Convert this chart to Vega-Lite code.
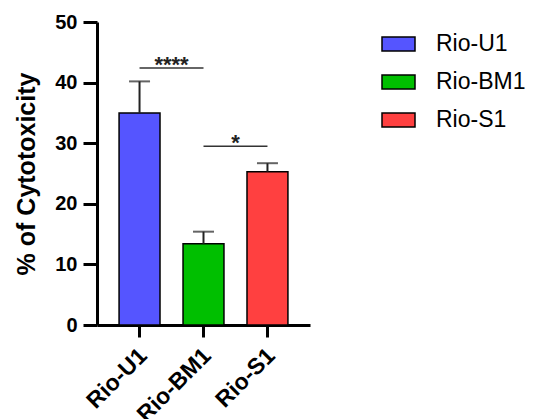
{
  "$schema": "https://vega.github.io/schema/vega-lite/v6.json",
  "width": 213,
  "height": 303,
  "autosize": {"type": "none"},
  "padding": {"left": 97, "top": 22, "right": 225, "bottom": 94},
  "background": "white",
  "config": {
    "view": {"stroke": null},
    "font": "Liberation Sans"
  },
  "datasets": {
    "bars": [
      {"group": "Rio-U1", "value": 35.0, "upper": 40.2},
      {"group": "Rio-BM1", "value": 13.4, "upper": 15.4},
      {"group": "Rio-S1", "value": 25.3, "upper": 26.7}
    ],
    "sig": [
      {"from": "Rio-U1", "to": "Rio-BM1", "y": 42.4, "label": "****"},
      {"from": "Rio-BM1", "to": "Rio-S1", "y": 29.5, "label": "*"}
    ]
  },
  "layer": [
    {
      "data": {"name": "bars"},
      "mark": {"type": "bar", "stroke": "black", "strokeWidth": 1.5},
      "encoding": {
        "x": {
          "field": "group", "type": "nominal",
          "scale": {"domain": ["Rio-U1", "Rio-BM1", "Rio-S1"], "paddingInner": 0.36, "paddingOuter": 0.345},
          "axis": {
            "title": null, "labelAngle": -45, "labelFontSize": 23, "labelFontWeight": "bold",
            "labelColor": "black", "domainColor": "black", "domainWidth": 3, "tickColor": "black",
            "tickWidth": 3, "tickSize": 12, "labelPadding": 7, "labelOffset": -4
          }
        },
        "y": {
          "field": "value", "type": "quantitative",
          "scale": {"domain": [0, 50], "nice": false},
          "axis": {
            "title": "% of Cytotoxicity", "titleFontSize": 25, "titleFontWeight": "bold", "titleColor": "black",
            "titlePadding": 15, "values": [0, 10, 20, 30, 40, 50], "grid": false,
            "labelFontSize": 20, "labelFontWeight": "bold", "labelColor": "black", "labelPadding": 6,
            "domainColor": "black", "domainWidth": 3, "tickColor": "black", "tickWidth": 3, "tickSize": 14
          }
        },
        "fill": {
          "field": "group", "type": "nominal",
          "scale": {"domain": ["Rio-U1", "Rio-BM1", "Rio-S1"], "range": ["#5555ff", "#00bf00", "#ff4040"]},
          "legend": {
            "title": null, "orient": "none", "legendX": 284, "legendY": 4.5, "padding": 0,
            "symbolType": "M-1,-0.424H1V0.424H-1Z", "symbolSize": 1089, "symbolStrokeColor": "black",
            "symbolStrokeWidth": 1.5, "symbolOpacity": 1, "labelFontSize": 23, "labelColor": "black",
            "labelOffset": 20, "rowPadding": 8, "labelLimit": 200
          }
        }
      }
    },
    {
      "data": {"name": "bars"},
      "mark": {"type": "rule", "color": "#222222", "strokeWidth": 2},
      "encoding": {
        "x": {"field": "group", "type": "nominal"},
        "y": {"field": "value", "type": "quantitative"},
        "y2": {"field": "upper"}
      }
    },
    {
      "data": {"name": "bars"},
      "mark": {"type": "tick", "color": "#222222", "thickness": 2, "size": 21},
      "encoding": {
        "x": {"field": "group", "type": "nominal"},
        "y": {"field": "upper", "type": "quantitative"}
      }
    },
    {
      "data": {"name": "sig"},
      "mark": {"type": "rule", "color": "#333333", "strokeWidth": 1.5},
      "encoding": {
        "x": {"field": "from", "type": "nominal"},
        "x2": {"field": "to"},
        "y": {"field": "y", "type": "quantitative"}
      }
    },
    {
      "data": {"name": "sig"},
      "mark": {"type": "text", "fontSize": 22, "fontWeight": "bold", "color": "#222222", "baseline": "alphabetic", "align": "center", "dx": 32, "dy": 4},
      "encoding": {
        "x": {"field": "from", "type": "nominal"},
        "y": {"field": "y", "type": "quantitative"},
        "text": {"field": "label"}
      }
    }
  ]
}
